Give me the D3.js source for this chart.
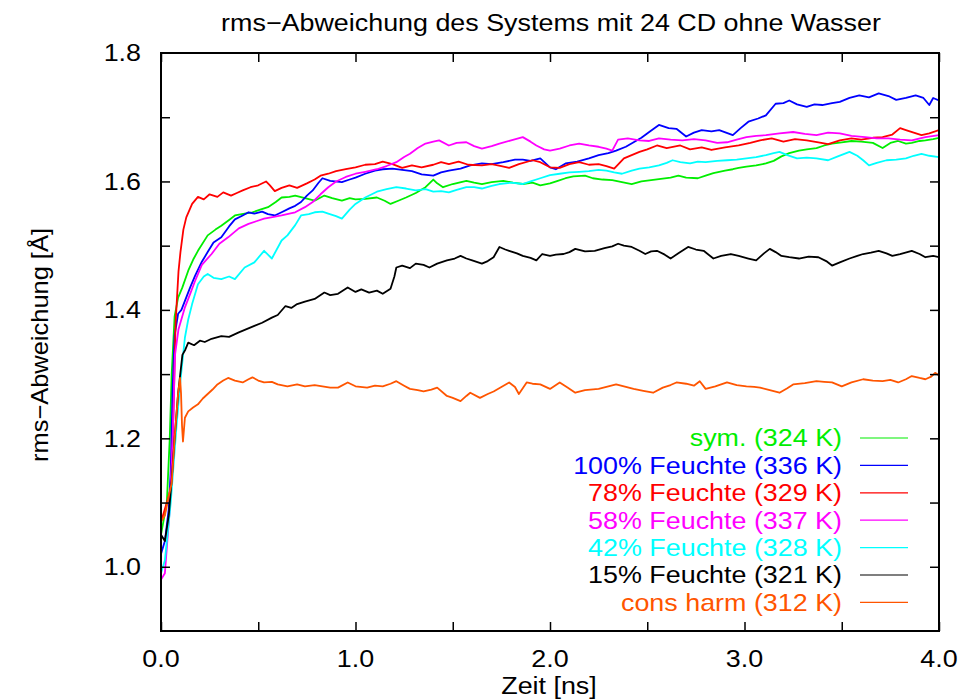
<!DOCTYPE html>
<html>
<head>
<meta charset="utf-8">
<script src="https://cdn.jsdelivr.net/npm/d3@7"></script>
<style>
  body { margin: 0; background: #fff; }
  text { font-family: "Liberation Sans", Arial, Helvetica, sans-serif; }
</style>
</head>
<body>
<div class="chart-container"></div>
<script>
// values, [time in ns, rms deviation in A]
var symData = [[0,1.05],[0.03,1.10],[0.045,1.2],[0.055,1.3],[0.07,1.39],[0.088,1.419],[0.11,1.435],[0.14,1.461],[0.165,1.478],[0.19,1.492],[0.24,1.516],[0.28,1.525],[0.31,1.531],[0.35,1.540],[0.38,1.547],[0.43,1.550],[0.47,1.552],[0.51,1.556],[0.55,1.560],[0.59,1.568],[0.62,1.575],[0.66,1.576],[0.69,1.578],[0.74,1.574],[0.79,1.570],[0.84,1.578],[0.88,1.574],[0.93,1.570],[0.97,1.574],[1.0,1.572],[1.05,1.573],[1.11,1.575],[1.15,1.570],[1.18,1.565],[1.22,1.570],[1.26,1.575],[1.31,1.582],[1.36,1.591],[1.4,1.603],[1.42,1.597],[1.45,1.591],[1.5,1.596],[1.57,1.601],[1.61,1.598],[1.65,1.596],[1.7,1.599],[1.76,1.601],[1.81,1.598],[1.86,1.596],[1.91,1.598],[1.95,1.594],[2.0,1.597],[2.04,1.601],[2.08,1.605],[2.12,1.608],[2.18,1.609],[2.22,1.605],[2.27,1.603],[2.32,1.602],[2.37,1.599],[2.42,1.596],[2.47,1.600],[2.52,1.602],[2.57,1.604],[2.62,1.606],[2.66,1.609],[2.7,1.606],[2.76,1.605],[2.8,1.609],[2.84,1.613],[2.9,1.617],[2.94,1.619],[2.97,1.621],[3.01,1.623],[3.06,1.625],[3.11,1.628],[3.15,1.632],[3.19,1.639],[3.23,1.644],[3.28,1.648],[3.32,1.650],[3.37,1.652],[3.41,1.656],[3.45,1.659],[3.5,1.661],[3.55,1.663],[3.6,1.662],[3.66,1.660],[3.71,1.652],[3.75,1.660],[3.79,1.663],[3.83,1.659],[3.86,1.660],[3.9,1.663],[3.93,1.664],[3.97,1.666],[4.0,1.668]];

var f100Data = [[0,1.02],[0.02,1.04],[0.04,1.09],[0.05,1.15],[0.06,1.28],[0.07,1.36],[0.088,1.394],[0.105,1.40],[0.123,1.414],[0.15,1.435],[0.175,1.453],[0.21,1.475],[0.24,1.490],[0.27,1.505],[0.31,1.513],[0.35,1.530],[0.38,1.541],[0.42,1.547],[0.45,1.552],[0.48,1.550],[0.52,1.553],[0.55,1.549],[0.585,1.547],[0.62,1.552],[0.66,1.558],[0.69,1.562],[0.72,1.568],[0.75,1.578],[0.78,1.586],[0.81,1.598],[0.83,1.605],[0.87,1.601],[0.93,1.599],[0.97,1.603],[1.0,1.606],[1.05,1.612],[1.1,1.617],[1.14,1.619],[1.19,1.620],[1.24,1.618],[1.29,1.616],[1.34,1.611],[1.4,1.609],[1.44,1.614],[1.48,1.617],[1.54,1.620],[1.59,1.625],[1.65,1.628],[1.7,1.627],[1.76,1.630],[1.82,1.634],[1.86,1.634],[1.9,1.632],[1.95,1.636],[2.0,1.622],[2.03,1.619],[2.08,1.628],[2.14,1.631],[2.2,1.636],[2.25,1.641],[2.3,1.644],[2.34,1.648],[2.39,1.654],[2.43,1.661],[2.47,1.668],[2.51,1.677],[2.56,1.688],[2.61,1.683],[2.65,1.682],[2.7,1.670],[2.74,1.676],[2.78,1.680],[2.83,1.678],[2.87,1.680],[2.94,1.672],[2.98,1.683],[3.02,1.693],[3.07,1.698],[3.11,1.703],[3.16,1.721],[3.2,1.722],[3.23,1.726],[3.27,1.720],[3.32,1.716],[3.36,1.720],[3.4,1.719],[3.45,1.722],[3.49,1.724],[3.54,1.730],[3.59,1.734],[3.64,1.731],[3.69,1.737],[3.74,1.733],[3.78,1.727],[3.83,1.730],[3.88,1.734],[3.92,1.730],[3.95,1.719],[3.97,1.730],[4.0,1.726]];

var f78Data = [[0,1.07],[0.02,1.09],[0.04,1.11],[0.055,1.13],[0.065,1.25],[0.075,1.38],[0.09,1.46],[0.1,1.49],[0.115,1.525],[0.13,1.544],[0.16,1.565],[0.19,1.576],[0.22,1.572],[0.25,1.580],[0.29,1.576],[0.32,1.583],[0.36,1.578],[0.39,1.582],[0.42,1.586],[0.46,1.591],[0.5,1.594],[0.54,1.600],[0.56,1.594],[0.585,1.585],[0.62,1.590],[0.66,1.594],[0.7,1.590],[0.75,1.597],[0.79,1.603],[0.82,1.609],[0.86,1.612],[0.9,1.616],[0.95,1.619],[1.0,1.622],[1.05,1.626],[1.1,1.627],[1.14,1.631],[1.19,1.627],[1.24,1.621],[1.29,1.625],[1.34,1.622],[1.4,1.626],[1.44,1.630],[1.48,1.627],[1.53,1.631],[1.58,1.626],[1.65,1.625],[1.7,1.627],[1.75,1.624],[1.79,1.621],[1.84,1.627],[1.91,1.633],[1.95,1.630],[2.0,1.622],[2.05,1.621],[2.1,1.627],[2.15,1.630],[2.2,1.626],[2.25,1.627],[2.29,1.624],[2.33,1.620],[2.38,1.636],[2.42,1.641],[2.46,1.646],[2.5,1.650],[2.55,1.656],[2.6,1.652],[2.67,1.656],[2.72,1.650],[2.78,1.653],[2.83,1.649],[2.9,1.653],[2.97,1.656],[3.03,1.660],[3.08,1.664],[3.14,1.667],[3.2,1.662],[3.26,1.666],[3.32,1.664],[3.38,1.661],[3.43,1.658],[3.49,1.664],[3.55,1.667],[3.6,1.665],[3.66,1.668],[3.71,1.669],[3.76,1.673],[3.8,1.683],[3.83,1.680],[3.87,1.676],[3.91,1.672],[3.95,1.675],[4.0,1.680]];

var f58Data = [[0,0.98],[0.02,0.99],[0.045,1.09],[0.06,1.2],[0.072,1.33],[0.09,1.37],[0.123,1.404],[0.15,1.425],[0.175,1.445],[0.21,1.470],[0.26,1.487],[0.3,1.503],[0.345,1.513],[0.4,1.527],[0.45,1.534],[0.49,1.538],[0.53,1.542],[0.58,1.545],[0.62,1.547],[0.66,1.550],[0.69,1.552],[0.74,1.560],[0.78,1.568],[0.82,1.580],[0.86,1.591],[0.9,1.600],[0.95,1.607],[1.0,1.612],[1.05,1.615],[1.11,1.619],[1.16,1.624],[1.21,1.630],[1.25,1.638],[1.28,1.643],[1.32,1.652],[1.36,1.659],[1.4,1.662],[1.43,1.664],[1.48,1.656],[1.52,1.660],[1.57,1.661],[1.61,1.655],[1.65,1.651],[1.7,1.655],[1.74,1.659],[1.8,1.664],[1.86,1.669],[1.9,1.662],[1.93,1.656],[1.97,1.650],[2.0,1.648],[2.05,1.651],[2.1,1.656],[2.15,1.659],[2.2,1.656],[2.25,1.654],[2.29,1.651],[2.32,1.648],[2.35,1.665],[2.4,1.667],[2.46,1.664],[2.51,1.663],[2.56,1.667],[2.62,1.665],[2.68,1.664],[2.74,1.666],[2.8,1.664],[2.86,1.660],[2.91,1.661],[2.96,1.665],[3.01,1.669],[3.06,1.671],[3.11,1.672],[3.18,1.675],[3.25,1.677],[3.31,1.674],[3.37,1.672],[3.43,1.676],[3.49,1.675],[3.55,1.671],[3.62,1.669],[3.68,1.667],[3.74,1.667],[3.8,1.665],[3.86,1.664],[3.93,1.669],[4.0,1.672]];

var f42Data = [[0,0.99],[0.02,1.01],[0.05,1.10],[0.08,1.22],[0.1,1.29],[0.123,1.357],[0.14,1.385],[0.16,1.409],[0.19,1.440],[0.22,1.452],[0.24,1.456],[0.27,1.450],[0.31,1.448],[0.35,1.452],[0.38,1.448],[0.43,1.466],[0.48,1.474],[0.53,1.492],[0.57,1.480],[0.62,1.508],[0.65,1.516],[0.69,1.532],[0.72,1.547],[0.76,1.549],[0.79,1.552],[0.83,1.553],[0.86,1.550],[0.9,1.546],[0.93,1.542],[0.97,1.556],[1.0,1.565],[1.05,1.575],[1.11,1.584],[1.16,1.588],[1.21,1.591],[1.26,1.589],[1.31,1.586],[1.36,1.588],[1.4,1.584],[1.44,1.585],[1.48,1.583],[1.52,1.587],[1.57,1.591],[1.61,1.591],[1.65,1.589],[1.7,1.593],[1.74,1.596],[1.8,1.598],[1.86,1.596],[1.9,1.600],[1.95,1.605],[2.0,1.610],[2.05,1.612],[2.1,1.614],[2.15,1.615],[2.2,1.616],[2.25,1.618],[2.29,1.617],[2.33,1.614],[2.37,1.612],[2.42,1.617],[2.46,1.620],[2.51,1.622],[2.56,1.625],[2.6,1.629],[2.63,1.633],[2.67,1.630],[2.72,1.628],[2.76,1.631],[2.8,1.630],[2.86,1.632],[2.91,1.633],[2.96,1.634],[3.01,1.636],[3.06,1.638],[3.11,1.641],[3.15,1.644],[3.18,1.646],[3.22,1.641],[3.27,1.636],[3.32,1.637],[3.37,1.636],[3.43,1.633],[3.48,1.639],[3.54,1.646],[3.58,1.640],[3.61,1.633],[3.64,1.625],[3.68,1.629],[3.73,1.633],[3.78,1.634],[3.83,1.636],[3.87,1.640],[3.91,1.643],[3.95,1.640],[4.0,1.638]];

var f15Data = [[0,1.05],[0.02,1.04],[0.04,1.08],[0.056,1.14],[0.07,1.20],[0.088,1.27],[0.11,1.33],[0.125,1.338],[0.14,1.349],[0.17,1.345],[0.2,1.352],[0.225,1.350],[0.26,1.355],[0.31,1.359],[0.35,1.358],[0.4,1.365],[0.44,1.370],[0.48,1.375],[0.52,1.380],[0.57,1.388],[0.6,1.392],[0.64,1.406],[0.67,1.403],[0.7,1.409],[0.74,1.413],[0.79,1.417],[0.84,1.427],[0.87,1.423],[0.91,1.425],[0.96,1.435],[1.0,1.428],[1.03,1.432],[1.07,1.427],[1.11,1.430],[1.14,1.425],[1.18,1.433],[1.2,1.452],[1.21,1.466],[1.24,1.469],[1.28,1.465],[1.31,1.472],[1.35,1.470],[1.38,1.466],[1.42,1.472],[1.47,1.477],[1.51,1.480],[1.54,1.484],[1.57,1.480],[1.6,1.477],[1.65,1.472],[1.68,1.476],[1.71,1.482],[1.74,1.498],[1.77,1.494],[1.79,1.492],[1.83,1.488],[1.86,1.484],[1.9,1.481],[1.93,1.477],[1.96,1.487],[2.0,1.484],[2.03,1.486],[2.07,1.487],[2.1,1.490],[2.13,1.495],[2.18,1.491],[2.23,1.492],[2.28,1.496],[2.32,1.499],[2.35,1.503],[2.38,1.500],[2.42,1.498],[2.46,1.492],[2.49,1.487],[2.52,1.491],[2.55,1.492],[2.59,1.486],[2.62,1.480],[2.66,1.488],[2.71,1.498],[2.75,1.494],[2.79,1.492],[2.84,1.480],[2.88,1.484],[2.93,1.487],[2.97,1.484],[3.02,1.480],[3.06,1.477],[3.1,1.488],[3.13,1.495],[3.16,1.490],[3.19,1.484],[3.23,1.482],[3.28,1.480],[3.33,1.483],[3.38,1.482],[3.42,1.476],[3.45,1.469],[3.49,1.474],[3.54,1.480],[3.58,1.484],[3.61,1.487],[3.65,1.489],[3.69,1.492],[3.73,1.488],[3.76,1.484],[3.8,1.487],[3.86,1.492],[3.9,1.487],[3.93,1.482],[3.97,1.484],[4.0,1.482]];

var consData = [[0,1.07],[0.02,1.08],[0.04,1.11],[0.055,1.13],[0.07,1.20],[0.088,1.27],[0.098,1.294],[0.103,1.27],[0.108,1.22],[0.113,1.195],[0.123,1.232],[0.14,1.242],[0.165,1.248],[0.19,1.253],[0.215,1.262],[0.24,1.269],[0.265,1.276],[0.29,1.284],[0.32,1.290],[0.345,1.294],[0.38,1.290],[0.42,1.287],[0.45,1.292],[0.47,1.295],[0.5,1.290],[0.53,1.287],[0.57,1.288],[0.6,1.284],[0.65,1.281],[0.7,1.284],[0.74,1.281],[0.79,1.283],[0.83,1.281],[0.87,1.279],[0.91,1.279],[0.96,1.287],[1.0,1.281],[1.06,1.279],[1.1,1.282],[1.14,1.281],[1.18,1.285],[1.21,1.289],[1.25,1.282],[1.28,1.277],[1.32,1.275],[1.35,1.273],[1.39,1.276],[1.42,1.279],[1.47,1.266],[1.5,1.263],[1.54,1.258],[1.57,1.266],[1.59,1.271],[1.64,1.263],[1.68,1.269],[1.71,1.273],[1.75,1.280],[1.79,1.287],[1.82,1.280],[1.84,1.269],[1.88,1.287],[1.91,1.285],[1.95,1.284],[2.0,1.277],[2.05,1.287],[2.09,1.279],[2.13,1.271],[2.18,1.275],[2.25,1.277],[2.3,1.281],[2.34,1.284],[2.38,1.281],[2.43,1.277],[2.48,1.274],[2.53,1.271],[2.58,1.279],[2.62,1.283],[2.65,1.287],[2.7,1.285],[2.74,1.282],[2.77,1.289],[2.8,1.277],[2.85,1.281],[2.91,1.287],[2.96,1.283],[3.01,1.281],[3.05,1.280],[3.08,1.279],[3.13,1.275],[3.18,1.271],[3.22,1.278],[3.25,1.284],[3.31,1.286],[3.37,1.289],[3.41,1.288],[3.45,1.287],[3.5,1.281],[3.55,1.287],[3.61,1.292],[3.66,1.290],[3.71,1.289],[3.75,1.291],[3.79,1.287],[3.83,1.292],[3.86,1.297],[3.9,1.294],[3.93,1.292],[3.96,1.296],[3.98,1.302],[4.0,1.298]];

var seriesData = [symData, f100Data, f78Data, f58Data, f42Data, f15Data, consData];
var seriesNames = ["sym. (324 K)", "100% Feuchte (336 K)", "78% Feuchte (329 K)", "58% Feuchte (337 K)",
                   "42% Feuchte (328 K)", "15% Feuchte (321 K)", "cons harm (312 K)"];
var seriesColors = ["#00ee00", "#0000ff", "#ff0000", "#ff00ff", "#00ffff", "#000000", "#ff5500"];

var xTicks = [0, 0.5, 1, 1.5, 2, 2.5, 3, 3.5, 4];
var xLabels = [0, 1, 2, 3, 4];
var yTicks = [1.0, 1.1, 1.2, 1.3, 1.4, 1.5, 1.6, 1.7];
var yLabels = [1.0, 1.2, 1.4, 1.6, 1.8];

var titleText = "rms\u2212Abweichung des Systems mit 24 CD ohne Wasser";
var xTitle = "Zeit [ns]";
var yTitle = "rms\u2212Abweichung [\u00c5]";

// set the dimensions and margins of the graph
var margin = {top: 53, right: 21, bottom: 68, left: 161},
    width = 960 - margin.left - margin.right,
    height = 699 - margin.top - margin.bottom;

var fontSize = 24, stretch = 1.12;   // glyphs in the reference are a bit wide

var x = d3.scaleLinear().domain([0, 4]).range([0, width]);
var y = d3.scaleLinear().domain([0.9, 1.8]).range([height, 0]);

var svg = d3.select(".chart-container").append("svg")
    .attr("width", width + margin.left + margin.right)
    .attr("height", height + margin.top + margin.bottom)
  .append("g")
    .attr("transform", "translate(" + margin.left + "," + margin.top + ")");

// text drawn around its anchor point, widened horizontally
function label(g, px, py, str, anchor, color) {
  return g.append("text")
      .attr("transform", "translate(" + px + "," + py + ") scale(" + stretch + ",1)")
      .attr("text-anchor", anchor)
      .attr("dy", "0.35em")
      .style("font-size", fontSize + "px")
      .style("fill", color || "#000")
      .text(str);
}

svg.append("clipPath").attr("id", "plot-clip")
  .append("rect").attr("width", width).attr("height", height);

// the data lines
var line = d3.line()
    .x(function(d) { return x(d[0]); })
    .y(function(d) { return y(d[1]); });

var lines = svg.append("g").attr("clip-path", "url(#plot-clip)");
seriesData.forEach(function(data, i) {
  lines.append("path")
      .datum(data)
      .attr("d", line)
      .style("fill", "none")
      .style("stroke", seriesColors[i])
      .style("stroke-width", 1.8)
      .style("stroke-linejoin", "round");
});

// inward ticks on all four sides, gnuplot style
function tickStyle(g) {
  g.select(".domain").remove();
  g.selectAll(".tick line").style("stroke", "#000").style("stroke-width", 1.5);
}
svg.append("g").attr("transform", "translate(0," + height + ")")
    .call(d3.axisBottom(x).tickValues(xTicks).tickSize(-9).tickFormat("")).call(tickStyle);
svg.append("g")
    .call(d3.axisTop(x).tickValues(xTicks).tickSize(-9).tickFormat("")).call(tickStyle);
svg.append("g")
    .call(d3.axisLeft(y).tickValues(yTicks).tickSize(-9).tickFormat("")).call(tickStyle);
svg.append("g").attr("transform", "translate(" + width + ",0)")
    .call(d3.axisRight(y).tickValues(yTicks).tickSize(-9).tickFormat("")).call(tickStyle);

svg.append("rect")
    .attr("width", width).attr("height", height)
    .style("fill", "none").style("stroke", "#000").style("stroke-width", 2);

// tick labels
xLabels.forEach(function(v) { label(svg, x(v), height + 28, d3.format(".1f")(v), "middle"); });
yLabels.forEach(function(v) { label(svg, -20, y(v), d3.format(".1f")(v), "end"); });

// titles
label(svg, 551 - margin.left, 23 - margin.top, titleText, "middle");
label(svg, 549 - margin.left, height + 55, xTitle, "middle");
svg.append("text")
    .attr("transform", "translate(" + (40 - margin.left) + "," + (345 - margin.top) + ") rotate(-90) scale(1.06,1)")
    .attr("text-anchor", "middle")
    .attr("dy", "0.35em")
    .style("font-size", fontSize + "px")
    .text(yTitle);

// legend
var legend = svg.append("g").attr("transform", "translate(0," + (438 - margin.top) + ")");
seriesNames.forEach(function(name, i) {
  var ly = i * 27.4;
  label(legend, 842 - margin.left, ly, name, "end", seriesColors[i]);
  legend.append("line")
      .attr("x1", 860 - margin.left).attr("x2", 908 - margin.left)
      .attr("y1", ly).attr("y2", ly)
      .style("stroke", seriesColors[i]).style("stroke-width", 1.2);
});
</script>
</body>
</html>
